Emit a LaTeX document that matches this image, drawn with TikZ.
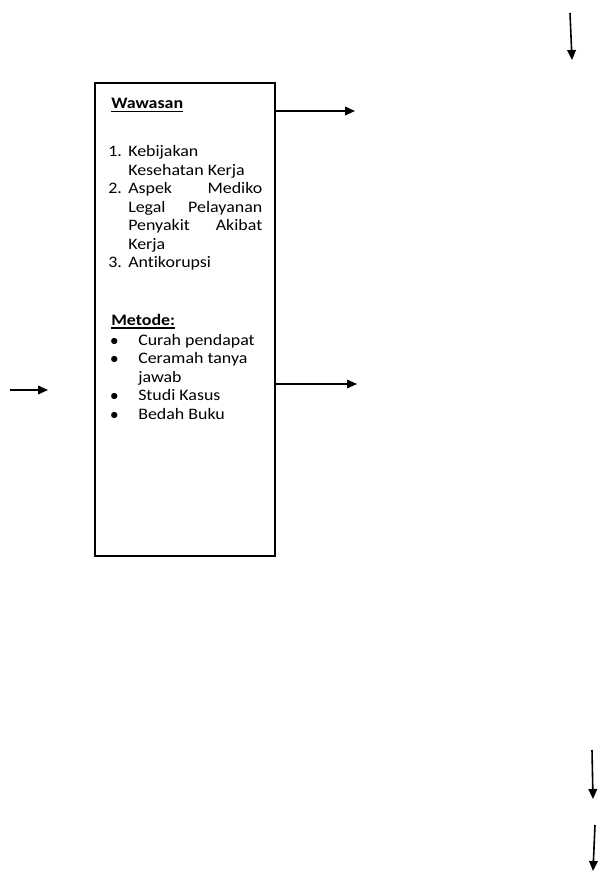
\documentclass[tikz,border=0pt]{standalone}
\usepackage{fontspec}
\setmainfont{Carlito}[FakeStretch=1.12,Ligatures=NoCommon]
\usepackage{tikz}
\usetikzlibrary{arrows.meta}

\tikzset{
  txt/.style={anchor=base west,inner sep=0pt,font=\fontsize{12pt}{13.7pt}\selectfont},
  arr/.style={-{Triangle[length=7.5pt,width=6.5pt]},line width=1.2pt},
  uline/.style={line width=1pt},
}
\newcommand{\dotmark}{$\bullet$}

\begin{document}
\begin{tikzpicture}[x=0.75pt,y=-0.75pt]
            \useasboundingbox (0,0) rectangle (600,875);
            \node[draw,line width=0.8pt,minimum width=135pt,minimum height=354.75pt,inner sep=0pt] (box) at (185,319.5) {};
            \node[txt] (waw) at (111,108.5) {\textbf{Wawasan}};
            \draw[uline] ([yshift=-2.2pt]waw.base west) -- ([yshift=-2.2pt]waw.base east);
            \node[txt] (n1) at (108,156.5) {1.};
            \node[txt] (i1a) at (128,156.5) {Kebijakan};
            \node[txt] (i1b) at (128,175) {Kesehatan Kerja};
            \node[txt] (n2) at (108,193.5) {2.};
            \node[txt] (i2a) at (128,193.5) {\makebox[100.5pt][s]{Aspek Mediko}};
            \node[txt] (i2b) at (128,212) {\makebox[100.5pt][s]{Legal Pelayanan}};
            \node[txt] (i2c) at (128,230.5) {\makebox[100.5pt][s]{Penyakit Akibat}};
            \node[txt] (i2d) at (128,249) {Kerja};
            \node[txt] (n3) at (108,267.5) {3.};
            \node[txt] (i3a) at (128,267.5) {Antikorupsi};
            \node[txt] (met) at (111,325) {\textbf{Metode:}};
            \draw[uline] ([yshift=-2.2pt]met.base west) -- ([yshift=-2.2pt]met.base east);
            \node[txt] (b1) at (110,345) {\dotmark};
            \node[txt] (m1) at (138,345) {Curah pendapat};
            \node[txt] (b2) at (110,363.5) {\dotmark};
            \node[txt] (m2a) at (138,363.5) {Ceramah tanya};
            \node[txt] (m2b) at (138,382) {jawab};
            \node[txt] (b3) at (110,400.5) {\dotmark};
            \node[txt] (m3) at (138,400.5) {Studi Kasus};
            \node[txt] (b4) at (110,419) {\dotmark};
            \node[txt] (m4) at (138,419) {Bedah Buku};
            \coordinate (e1) at (355,111);
            \coordinate (e2) at (357,384);
            \coordinate (l0) at (10,390);
            \coordinate (l1) at (48,390);
            \coordinate (t0) at (570,13);
            \coordinate (t1) at (572,60);
            \coordinate (d0) at (592,750);
            \coordinate (d1) at (593,799);
            \coordinate (d2) at (595,825);
            \coordinate (d3) at (593,871);
            \draw[arr] ([xshift=-1.5pt]e1 -| box.east) -- (e1);
            \draw[arr] (e2 -| box.east) -- (e2);
            \draw[arr] (l0) -- (l1);
            \draw[arr] (t0) -- (t1);
            \draw[arr] (d0) -- (d1);
            \draw[arr] (d2) -- (d3);
        \end{tikzpicture}
\end{document}
